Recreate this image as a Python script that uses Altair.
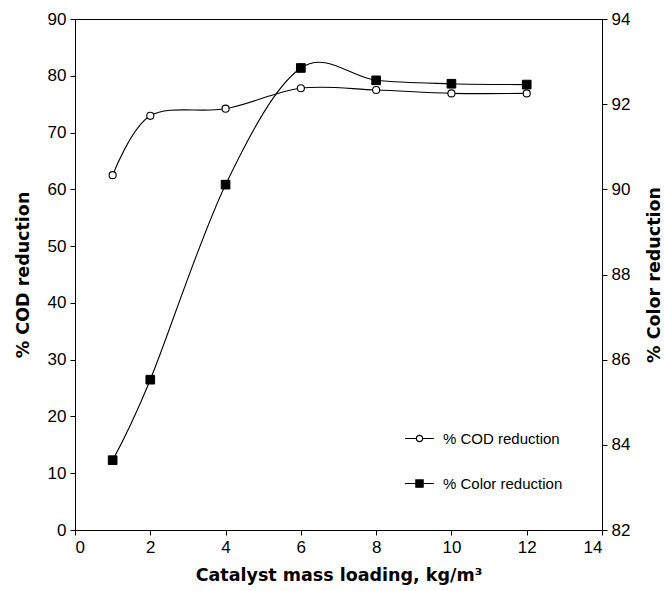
import altair as alt
import pandas as pd

loading = [1, 2, 4, 6, 8, 10, 12]
cod_reduction = [62.5, 72.95, 74.2, 77.8, 77.5, 76.9, 76.9]
color_reduction = [83.64, 85.53, 90.11, 92.85, 92.56, 92.48, 92.46]
series_names = ["% COD reduction", "% Color reduction"]

df_cod = pd.DataFrame({"x": loading, "y": cod_reduction, "series": series_names[0]})
df_col = pd.DataFrame({"x": loading, "y": color_reduction, "series": series_names[1]})
df_all = pd.concat([df_cod, df_col], ignore_index=True)

FONT = "Liberation Sans"
TFONT = "DejaVu Sans"

xenc = alt.X("x:Q", scale=alt.Scale(domain=[0, 14], nice=False),
             axis=alt.Axis(values=list(range(0, 15, 2)), title="Catalyst mass loading, kg/m³",
                           titlePadding=11))

cod_path = "M-1,0L-0.22,0M0.22,0L1,0M-0.22,0A0.22,0.22,0,1,1,0.22,0A0.22,0.22,0,1,1,-0.22,0"
col_path = "M-1,0L1,0M-0.25,-0.25L0.25,-0.25L0.25,0.25L-0.25,0.25Z"

legend = alt.Legend(
    orient="none", legendX=329, legendY=404, title=None,
    labelFontSize=15, labelFont=FONT, labelColor="black",
    symbolSize=841, symbolStrokeWidth=1.2, symbolStrokeColor="black", symbolOpacity=1,
    labelOffset=8, rowPadding=21,
)

cod_line = alt.Chart(df_cod).mark_line(interpolate="cardinal", color="black", strokeWidth=1.1).encode(
    x=xenc,
    y=alt.Y("y:Q", scale=alt.Scale(domain=[0, 90], nice=False),
            axis=alt.Axis(values=list(range(0, 91, 10)), title="% COD reduction", orient="left",
                          titlePadding=15)),
)
cod_pts = alt.Chart(df_cod).mark_point(shape="circle", size=50, stroke="black", fill="white",
                                       strokeWidth=1.1, opacity=1, filled=False).encode(
    x=xenc,
    y=alt.Y("y:Q", scale=alt.Scale(domain=[0, 90], nice=False)),
)
col_line = alt.Chart(df_col).mark_line(interpolate="cardinal", color="black", strokeWidth=1.1).encode(
    x=xenc,
    y=alt.Y("y:Q", scale=alt.Scale(domain=[82, 94], nice=False),
            axis=alt.Axis(values=list(range(82, 95, 2)), title="% Color reduction", orient="right",
                          titleAngle=270, titlePadding=34)),
)
col_pts = alt.Chart(df_col).mark_point(shape="square", size=75, stroke="black", fill="black",
                                       strokeWidth=1, opacity=1, filled=True).encode(
    x=xenc,
    y=alt.Y("y:Q", scale=alt.Scale(domain=[82, 94], nice=False)),
)

legend_layer = alt.Chart(df_all).transform_filter("false").mark_point(
    opacity=0, filled=False, stroke="black").encode(
    shape=alt.Shape("series:N", scale=alt.Scale(domain=series_names, range=[cod_path, col_path]), legend=legend),
    fill=alt.Fill("series:N", scale=alt.Scale(domain=series_names, range=["white", "black"]), legend=legend),
    stroke=alt.Stroke("series:N", scale=alt.Scale(domain=series_names, range=["black", "black"]), legend=legend),
)

left = alt.layer(cod_line, cod_pts)
right = alt.layer(col_line, col_pts)

chart = alt.layer(left, right, legend_layer).resolve_scale(y="independent").properties(
    width=527, height=511,
    autosize=alt.AutoSizeParams(type="none"),
    padding={"left": 75, "top": 19, "right": 62, "bottom": 61},
).configure_view(stroke="black", strokeWidth=1).configure_axis(
    grid=False, domainColor="black", tickColor="black", labelColor="black", titleColor="black",
    labelFont=FONT, titleFont=TFONT, labelFontSize=17, titleFontSize=17.5, titleFontWeight="bold",
    tickSize=5, labelPadding=4, domainWidth=1,
)

chart.save("out.html", embed_options={"renderer": "svg", "actions": False})
